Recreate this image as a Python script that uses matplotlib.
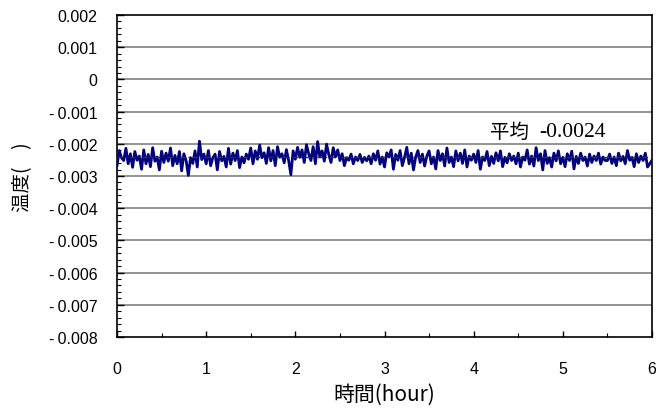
import numpy as np
import matplotlib
matplotlib.use("Agg")
import matplotlib.pyplot as plt

# time step of samples (hours)
dt = 0.025
# temperature values in units of 1e-5 ℃
temp_e5 = [
    -268, -221, -243, -252, -214, -262, -231, -273, -224, -251, -238, -279, -219, -262, -233, -271, -212, -254, -241, -281,
    -223, -258, -229, -254, -213, -268, -236, -262, -224, -284, -231, -252, -298, -243, -261, -222, -272, -192, -249, -232,
    -262, -221, -268, -243, -232, -281, -224, -253, -239, -272, -214, -263, -229, -252, -221, -274, -241, -259, -232, -248,
    -213, -262, -222, -248, -204, -243, -228, -261, -212, -253, -221, -268, -209, -242, -231, -259, -218, -252, -296, -222,
    -248, -211, -242, -219, -258, -203, -231, -252, -209, -262, -193, -241, -222, -254, -201, -233, -258, -212, -241, -219,
    -252, -231, -268, -243, -251, -232, -262, -241, -252, -233, -258, -242, -253, -238, -262, -231, -251, -222, -263, -241,
    -272, -228, -241, -219, -279, -233, -251, -221, -268, -242, -211, -262, -229, -281, -241, -221, -258, -232, -269, -238,
    -222, -262, -241, -278, -221, -252, -231, -269, -213, -258, -241, -271, -222, -253, -229, -261, -219, -272, -238, -251,
    -232, -258, -221, -279, -241, -252, -224, -268, -239, -261, -228, -253, -222, -271, -242, -259, -231, -252, -238, -262,
    -229, -272, -241, -251, -219, -263, -238, -269, -212, -252, -231, -281, -221, -261, -243, -272, -229, -253, -222, -262,
    -242, -271, -231, -252, -223, -278, -239, -261, -229, -252, -241, -269, -232, -258, -238, -252, -229, -263, -241, -252,
    -252, -232, -261, -241, -268, -229, -253, -239, -262, -221, -251, -242, -271, -231, -258, -238, -252, -229, -272, -262,
    -251,
]
mean_value = -0.0024
y_ticks = [0.002, 0.001, 0, -0.001, -0.002, -0.003, -0.004, -0.005, -0.006, -0.007, -0.008]
y_tick_labels = ["0.002", "0.001", "0"] + ["-\u2009" + s for s in
                 ["0.001", "0.002", "0.003", "0.004", "0.005", "0.006", "0.007", "0.008"]]
x_ticks = [0, 1, 2, 3, 4, 5, 6]

temp = np.array(temp_e5) * 1e-5
t = np.arange(len(temp)) * dt

sans = ["Liberation Sans", "DejaVu Sans"]
cjk = ["Noto Sans CJK JP", "Liberation Sans", "DejaVu Sans"]

fig = plt.figure(figsize=(6.56, 4.14), dpi=100)
ax = fig.add_axes([117/656, 1-338/414, (652-117)/656, (338-16)/414])

for yv in y_ticks[1:-1]:
    ax.axhline(yv, color="#808080", lw=1.2, zorder=1)

ax.plot(t, temp, color="#000080", lw=2.0, zorder=3)
ax.axhline(mean_value, color="#333333", lw=1.0, ls=(0, (4, 2, 1, 2)), zorder=4)

ax.set_xlim(0, 6)
ax.set_ylim(-0.008, 0.002)
ax.set_yticks(y_ticks)
ax.set_yticklabels(y_tick_labels, fontfamily=sans, fontsize=11.5)
ax.set_yticks(np.arange(-0.008, 0.00201, 0.0002), minor=True)
ax.set_xticks(x_ticks)
ax.set_xticklabels([str(v) for v in x_ticks], fontfamily=sans, fontsize=11.5)
ax.set_xticks(np.arange(0.5, 6, 1.0), minor=True)

ax.tick_params(axis="y", which="major", direction="in", length=5, width=1, pad=14)
ax.tick_params(axis="y", which="minor", direction="in", length=3, width=0.8)
ax.tick_params(axis="x", which="major", direction="in", length=4, width=1, pad=17)
ax.tick_params(axis="x", which="minor", direction="in", length=3, width=0.8)

for s in ax.spines.values():
    s.set_color("black")
    s.set_linewidth(1.2)

ax.set_xlabel("時間(hour)", fontfamily=cjk, fontsize=15, labelpad=5)
ax.set_ylabel("温度(    )", fontfamily=cjk, fontsize=14, labelpad=11)

ax.text(4.18, -0.00163, "平均", fontfamily=cjk, fontsize=14, va="center", ha="left")
ax.text(4.73, -0.00163, "-0.0024", fontfamily=["Liberation Serif"], fontsize=15.5,
        va="center", ha="left")

fig.savefig("out.png", dpi=100)
